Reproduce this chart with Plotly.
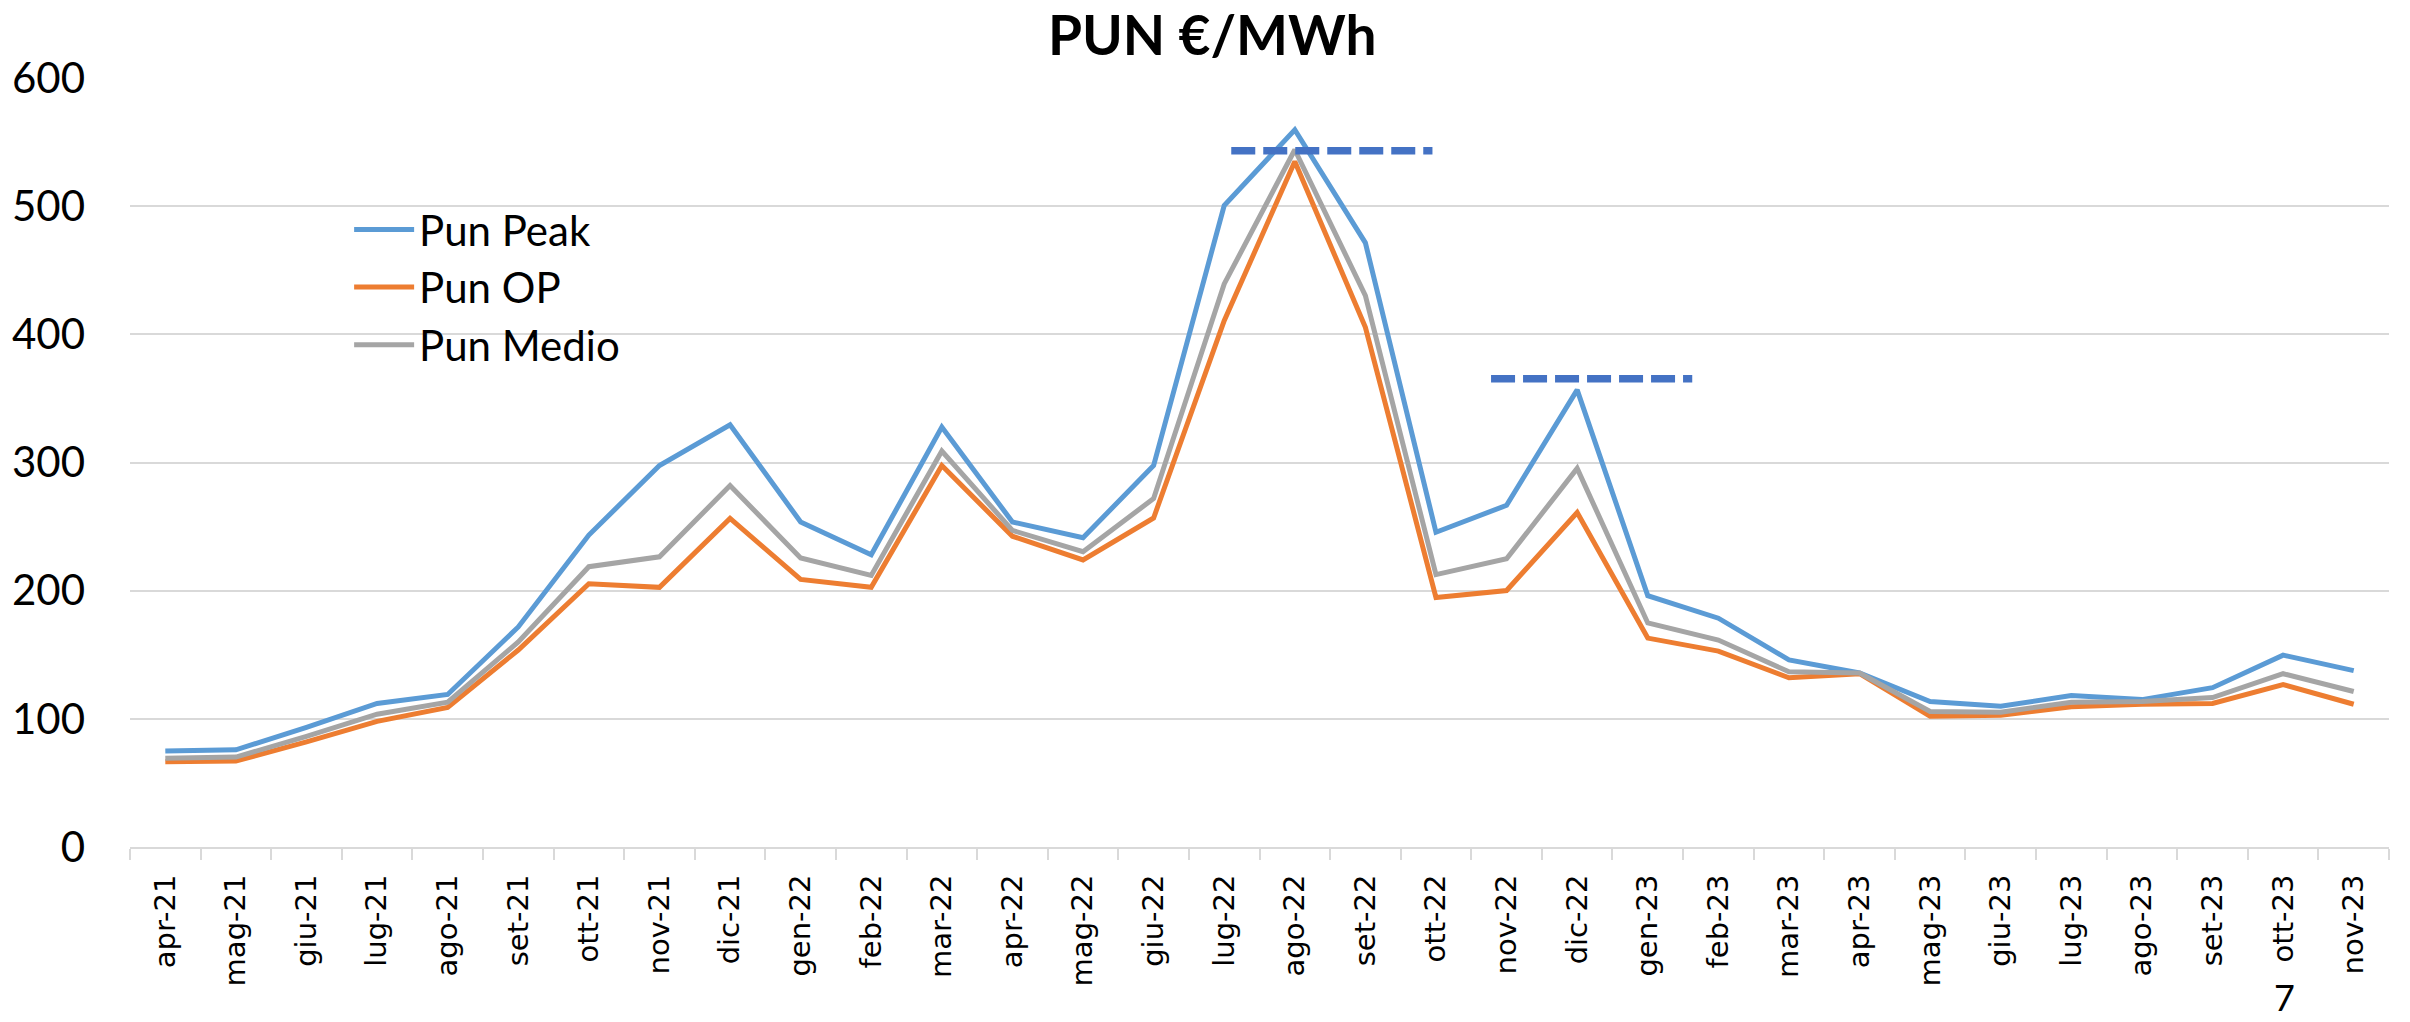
import plotly.graph_objects as go

months = ["apr-21", "mag-21", "giu-21", "lug-21", "ago-21", "set-21", "ott-21", "nov-21", "dic-21",
          "gen-22", "feb-22", "mar-22", "apr-22", "mag-22", "giu-22", "lug-22", "ago-22", "set-22",
          "ott-22", "nov-22", "dic-22", "gen-23", "feb-23", "mar-23", "apr-23", "mag-23", "giu-23",
          "lug-23", "ago-23", "set-23", "ott-23", "nov-23"]

pun_peak = [74.9, 75.8, 93.4, 112.0, 119.0, 171.7, 243.4, 297.6, 329.4, 253.6, 228.0, 327.6,
            253.6, 241.3, 297.6, 500.5, 559.6, 471.4, 245.6, 266.6, 356.7, 196.1, 178.5, 146.0,
            135.8, 113.5, 109.8, 118.2, 115.0, 124.3, 149.7, 137.6]
pun_op = [66.5, 67.1, 82.0, 98.0, 108.9, 153.7, 205.4, 202.6, 256.4, 208.8, 202.6, 297.6,
          242.5, 224.0, 256.7, 410.7, 534.8, 405.5, 194.6, 200.1, 261.0, 163.0, 152.8, 132.0,
          135.2, 102.0, 102.7, 109.5, 111.4, 112.0, 126.8, 111.4]
pun_medio = [69.3, 70.2, 86.3, 103.6, 113.0, 160.0, 218.7, 226.4, 282.0, 225.5, 211.9, 309.0,
             247.0, 230.4, 271.9, 439.3, 544.0, 430.2, 212.5, 224.9, 295.4, 174.8, 161.5, 136.7,
             135.8, 105.8, 105.2, 112.9, 113.5, 116.6, 135.2, 121.3]

# reference (dashed) levels: value, start/end position in category index units
ref_levels = [543.2, 365.3]
ref_start = [15.1, 18.78]
ref_end = [17.95, 21.63]

y_ticks = [0, 100, 200, 300, 400, 500, 600]

series = [
    ("Pun Peak", pun_peak, "#5B9BD5"),
    ("Pun OP", pun_op, "#ED7D31"),
    ("Pun Medio", pun_medio, "#A5A5A5"),
]

fig = go.Figure()
for name, vals, col in series:
    fig.add_trace(go.Scatter(x=months, y=vals, name=name, mode="lines",
                             line=dict(color=col, width=5)))

for lvl, x0, x1 in zip(ref_levels, ref_start, ref_end):
    fig.add_shape(type="line", xref="x", yref="y", x0=x0, x1=x1, y0=lvl, y1=lvl,
                  line=dict(color="#4472C4", width=7.5, dash="24px,8px"), layer="above")

fig.update_layout(
    width=2410, height=1022,
    margin=dict(l=130, r=21, t=78, b=175),
    paper_bgcolor="white", plot_bgcolor="white",
    title=dict(text="<b>PUN €/MWh</b>", x=0.503, xref="container", xanchor="center",
               y=1 - 36 / 1022, yref="container", yanchor="middle",
               font=dict(family="Lato", size=55, color="black")),
    legend=dict(x=0.097, y=0.847, xanchor="left", yanchor="top", bgcolor="rgba(0,0,0,0)",
                font=dict(family="Lato", size=42, color="black"), itemwidth=60,
                tracegroupgap=0),
    showlegend=True,
)

fig.update_xaxes(type="category", categoryorder="array", categoryarray=months,
                 range=[-0.5, len(months) - 0.5], tickangle=-90,
                 tickfont=dict(family="DejaVu Sans", size=29, color="black"),
                 showline=True, linecolor="#D9D9D9", linewidth=2,
                 ticks="outside", tickson="boundaries", ticklen=11, tickwidth=2, tickcolor="#D9D9D9",
                 showgrid=False, zeroline=False, ticklabelstandoff=14)

fig.update_yaxes(range=[0, 600], tickvals=y_ticks, ticktext=[str(v) for v in y_ticks],
                 tickfont=dict(family="Lato", size=42, color="black"),
                 showgrid=True, gridcolor="#D9D9D9", gridwidth=2, zeroline=False,
                 showline=False, ticks="", ticklabelstandoff=44)

fig.add_annotation(text="7", xref="paper", yref="paper", x=(2284 - 130) / 2259, y=-0.1638,
                   xanchor="center", yanchor="top", showarrow=False,
                   font=dict(family="Lato", size=36, color="black"))

fig.write_html("out.html", config={"displayModeBar": False},
               post_script="document.body.style.margin='0';")
